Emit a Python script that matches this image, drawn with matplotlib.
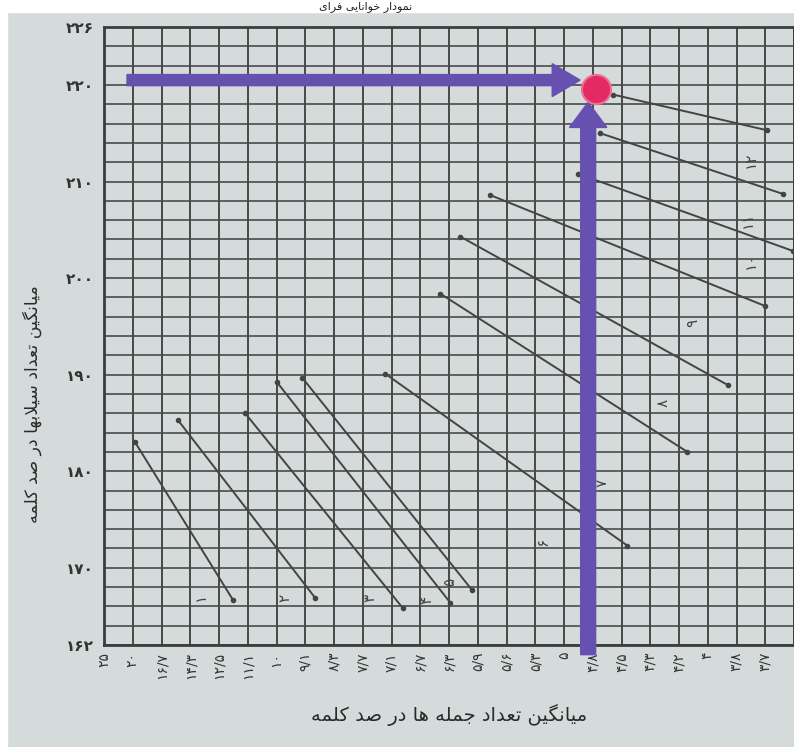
import matplotlib
matplotlib.use('Agg')
import matplotlib.pyplot as plt

# --- data ---
# x: column index of the vertical grid lines (24 columns), labelled with sentences per 100 words
x_tick_labels = ['۲۵', '۲۰', '۱۶/۷', '۱۴/۳', '۱۲/۵', '۱۱/۱', '۱۰', '۹/۱', '۸/۳', '۷/۷',
                 '۷/۱', '۶/۷', '۶/۳', '۵/۹', '۵/۶', '۵/۳', '۵', '۴/۸', '۴/۵', '۴/۳',
                 '۴/۲', '۴', '۳/۸', '۳/۷']
y_ticks = [162, 170, 180, 190, 200, 210, 220, 226]
y_tick_labels = ['۱۶۲', '۱۷۰', '۱۸۰', '۱۹۰', '۲۰۰', '۲۱۰', '۲۲۰', '۲۲۶']

# grade lines: start / end (column, syllables)
line_x0 = [1.08, 2.57, 4.91, 6.02, 6.89, 9.78, 11.69, 12.39, 13.43, 16.49, 17.26, 17.71]
line_y0 = [183.0, 185.3, 186.0, 189.2, 189.7, 190.1, 198.4, 204.3, 208.6, 210.8, 215.0, 219.0]
line_x1 = [4.49, 7.34, 10.40, 12.04, 12.80, 18.20, 20.29, 21.71, 23.00, 23.97, 23.63, 23.07]
line_y1 = [166.65, 166.9, 165.8, 166.4, 167.7, 172.3, 182.0, 188.9, 197.1, 202.8, 208.7, 215.3]

grade_labels = ['۱', '۲', '۳', '۴', '۵', '۶', '۷', '۸', '۹', '۱۰', '۱۱', '۱۲']
grade_lab_x = [3.34, 6.30, 9.26, 11.24, 12.04, 15.27, 17.33, 19.45, 20.49, 22.48, 22.37, 22.48]
grade_lab_y = [167.0, 166.9, 166.9, 166.7, 168.5, 172.7, 178.8, 187.1, 195.4, 201.8, 206.0, 212.2]

# the worked example marked on the graph
point_x, point_y = 17.12, 219.6
h_arrow_x0, h_arrow_x1, h_arrow_y = 0.8, 16.56, 220.5
v_arrow_y0, v_arrow_y1, v_arrow_x = 161.0, 218.2, 16.84

xlabel = 'میانگین تعداد جمله ها در صد کلمه'
ylabel = 'میانگین تعداد سیلابها در صد کلمه'
title = 'نمودار خوانایی فرای'

# --- crude arabic shaping (matplotlib draws glyphs one by one, left to right) ---
FORMS = {
    'ا': ('\uFE8D', '\uFE8E', None, None),
    'ب': ('\uFE8F', '\uFE90', '\uFE91', '\uFE92'),
    'ت': ('\uFE95', '\uFE96', '\uFE97', '\uFE98'),
    'ج': ('\uFE9D', '\uFE9E', '\uFE9F', '\uFEA0'),
    'خ': ('\uFEA5', '\uFEA6', '\uFEA7', '\uFEA8'),
    'د': ('\uFEA9', '\uFEAA', None, None),
    'ر': ('\uFEAD', '\uFEAE', None, None),
    'س': ('\uFEB1', '\uFEB2', '\uFEB3', '\uFEB4'),
    'ص': ('\uFEB9', '\uFEBA', '\uFEBB', '\uFEBC'),
    'ع': ('\uFEC9', '\uFECA', '\uFECB', '\uFECC'),
    'ف': ('\uFED1', '\uFED2', '\uFED3', '\uFED4'),
    'ل': ('\uFEDD', '\uFEDE', '\uFEDF', '\uFEE0'),
    'م': ('\uFEE1', '\uFEE2', '\uFEE3', '\uFEE4'),
    'ن': ('\uFEE5', '\uFEE6', '\uFEE7', '\uFEE8'),
    'ه': ('\uFEE9', '\uFEEA', '\uFEEB', '\uFEEC'),
    'و': ('\uFEED', '\uFEEE', None, None),
    'ک': ('\uFB8E', '\uFB8F', '\uFB90', '\uFB91'),
    'گ': ('\uFB92', '\uFB93', '\uFB94', '\uFB95'),
    'ی': ('\uFBFC', '\uFBFD', '\uFBFE', '\uFBFF'),
}


def dual(ch):
    return ch in FORMS and FORMS[ch][2] is not None


def shape(text):
    out = []
    i = 0
    n = len(text)
    while i < n:
        c = text[i]
        if c not in FORMS:
            out.append(c)
            i += 1
            continue
        joins_prev = i > 0 and dual(text[i - 1])
        if c == 'ل' and i + 1 < n and text[i + 1] == 'ا':
            out.append('\uFEFC' if joins_prev else '\uFEFB')
            i += 2
            continue
        nxt = text[i + 1] if i + 1 < n else ''
        joins_next = dual(c) and nxt in FORMS
        iso, fin, ini, med = FORMS[c]
        if joins_prev and joins_next:
            out.append(med)
        elif joins_prev:
            out.append(fin)
        elif joins_next:
            out.append(ini)
        else:
            out.append(iso)
        i += 1
    return ''.join(reversed(out))


plt.rcParams['font.family'] = ['DejaVu Sans']

paper = '#d4dbda'
ink = '#3c3c3c'

fig = plt.figure(figsize=(7.94, 7.47), dpi=100, facecolor=paper)
ax = fig.add_axes([104 / 794, 102 / 747, 690 / 794, 618 / 747])
ax.set_facecolor(paper)

# white edge of the photo + title strip
fig.patches.append(plt.Rectangle((0, 735 / 747), 1, 12 / 747, transform=fig.transFigure,
                                 color='white', zorder=0))
fig.patches.append(plt.Rectangle((0, 0), 7 / 794, 1, transform=fig.transFigure,
                                 color='white', zorder=0))
fig.text(0.46, 740 / 747, shape(title), ha='center', va='center', fontsize=8, color='#222')

ax.set_xlim(0, 24)
ax.set_ylim(162, 226)
ax.set_xticks(range(len(x_tick_labels)))
ax.set_xticks([24], minor=True)
ax.set_xticklabels(x_tick_labels, rotation=90, fontsize=10, color='#333')
ax.set_yticks(y_ticks)
ax.set_yticks(range(162, 227, 2), minor=True)
ax.set_yticklabels(y_tick_labels, fontsize=11, color='#333', fontweight='bold')
ax.tick_params(which='both', length=0)
ax.tick_params(axis='x', pad=5)
ax.tick_params(axis='y', pad=7)
ax.grid(True, axis='x', which='both', color=ink, lw=1.3)
ax.grid(True, axis='y', which='both', color='#4a4a4a', lw=1.2)
ax.set_axisbelow(True)
for s in ax.spines.values():
    s.set_color(ink)
    s.set_linewidth(2)

for i in range(len(line_x0)):
    ax.plot([line_x0[i], line_x1[i]], [line_y0[i], line_y1[i]], color='#444',
            lw=1.4, marker='o', ms=3, zorder=3)
    ax.text(grade_lab_x[i], grade_lab_y[i], grade_labels[i], rotation=90,
            ha='center', va='center', fontsize=11, color='#444', zorder=3)

ax.set_xlabel(shape(xlabel), fontsize=14, color='#2a2a2a', labelpad=18)
ax.set_ylabel(shape(ylabel), fontsize=12.5, color='#2a2a2a')
ax.yaxis.set_label_coords(-0.09, 0.39)

purple = '#6650b0'
ax.arrow(h_arrow_x0, h_arrow_y, h_arrow_x1 - h_arrow_x0, 0, width=1.15,
         head_width=3.4, head_length=0.97, length_includes_head=True,
         color=purple, zorder=5)
ax.arrow(v_arrow_x, v_arrow_y0, 0, v_arrow_y1 - v_arrow_y0, width=0.52,
         head_width=1.3, head_length=2.6, length_includes_head=True,
         color=purple, zorder=5, clip_on=False)
ax.plot(point_x, point_y, 'o', ms=21, color='#e42a62', mec='#ef6f93', mew=1.5, zorder=6)

fig.savefig('out.png', dpi=100, facecolor=paper)
